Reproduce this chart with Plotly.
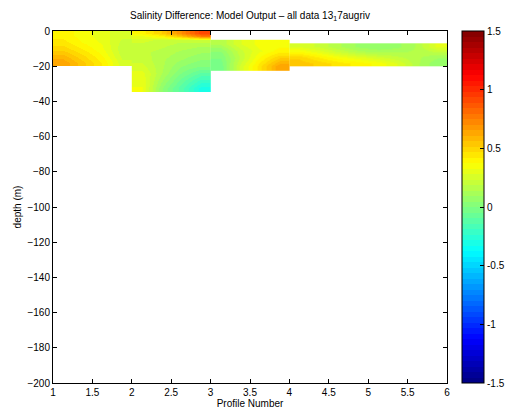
import plotly.graph_objects as go

# ---- Data (salinity difference): cell centres and values per block ----
blockA_x = [1.125, 1.375, 1.625, 1.875]
blockA_y = [-2, -6, -10, -14, -18]
blockA_z = [
    [0.40, 0.35, 0.30, 0.25],
    [0.44, 0.37, 0.32, 0.22],
    [0.50, 0.42, 0.34, 0.20],
    [0.58, 0.48, 0.38, 0.22],
    [0.65, 0.53, 0.42, 0.25],
]

blockB_x = [2.125, 2.375, 2.625, 2.875]
blockB_y = [-1, -3, -5, -8, -12, -16, -20, -24, -28, -32.25]
blockB_z = [
    [0.40, 0.52, 0.70, 0.92],
    [0.32, 0.40, 0.55, 0.75],
    [0.25, 0.22, 0.20, 0.22],
    [0.22, 0.20, 0.17, 0.15],
    [0.20, 0.17, 0.13, 0.10],
    [0.22, 0.15, 0.10, 0.05],
    [0.25, 0.15, 0.05, 0.00],
    [0.30, 0.14, 0.00, -0.10],
    [0.32, 0.10, -0.06, -0.20],
    [0.33, 0.05, -0.12, -0.30],
]

blockC_x = [3.125, 3.375, 3.625, 3.875]
blockC_y = [-7, -11, -15, -20]
blockC_z = [
    [0.15, 0.28, 0.35, 0.35],
    [0.05, 0.22, 0.32, 0.40],
    [0.00, 0.20, 0.38, 0.52],
    [-0.03, 0.25, 0.45, 0.65],
]

blockD_x = [4.125, 4.375, 4.625, 4.875, 5.125, 5.375, 5.625, 5.875]
blockD_y = [-8.5, -11.5, -14.75, -18.25]
blockD_z = [
    [0.27, 0.22, 0.15, 0.08, 0.05, 0.08, 0.15, 0.30],
    [0.37, 0.30, 0.22, 0.15, 0.12, 0.13, 0.15, 0.20],
    [0.50, 0.42, 0.35, 0.30, 0.25, 0.20, 0.15, 0.10],
    [0.55, 0.50, 0.45, 0.40, 0.36, 0.28, 0.15, 0.05],
]

x_ticks = [1, 1.5, 2, 2.5, 3, 3.5, 4, 4.5, 5, 5.5, 6]
y_ticks = [0, -20, -40, -60, -80, -100, -120, -140, -160, -180, -200]
cbar_ticks = [-1.5, -1, -0.5, 0, 0.5, 1, 1.5]
cbar_labels = ["-1.5", "-1", "-0.5", "0", "0.5", "1", "1.5"]


# ---- MATLAB jet(64) colormap as a stepped colorscale ----
def jet(t):
    def c(v):
        return max(0.0, min(1.0, v))
    r = c(1.5 - abs(4 * t - 3))
    g = c(1.5 - abs(4 * t - 2))
    b = c(1.5 - abs(4 * t - 1))
    return "rgb(%d,%d,%d)" % (round(r * 255), round(g * 255), round(b * 255))


N = 64
colorscale = []
for i in range(N):
    col = jet((i + 0.5) / N)
    colorscale.append([i / N, col])
    colorscale.append([(i + 1) / N, col])

fig = go.Figure()
for bx, by, bz in [(blockA_x, blockA_y, blockA_z), (blockB_x, blockB_y, blockB_z),
                   (blockC_x, blockC_y, blockC_z), (blockD_x, blockD_y, blockD_z)]:
    fig.add_trace(go.Heatmap(x=bx, y=by, z=bz, coloraxis="coloraxis",
                             zsmooth="best", hoverinfo="skip"))

font = dict(family="Liberation Sans, Arial, sans-serif", size=10, color="black")

fig.update_layout(
    width=505, height=411,
    margin=dict(l=53, r=58, t=31, b=28, pad=0, autoexpand=False),
    paper_bgcolor="white", plot_bgcolor="white",
    font=font,
    showlegend=False,
    title=dict(text="Salinity Difference: Model Output \u2013 all data 13<sub>1</sub>7augriv",
               x=0.495, xanchor="center", y=1 - 15 / 411, yanchor="middle",
               font=dict(size=10)),
    coloraxis=dict(
        cmin=-1.5, cmax=1.5, colorscale=colorscale,
        colorbar=dict(
            x=1.038, xanchor="left", xref="paper",
            y=0.5, yanchor="middle", len=1, lenmode="fraction",
            thickness=22, thicknessmode="pixels",
            outlinecolor="black", outlinewidth=1,
            tickmode="array", tickvals=cbar_ticks, ticktext=cbar_labels,
            ticks="inside", ticklen=4, tickcolor="black",
            tickfont=dict(size=10), xpad=0, ypad=0,
        ),
    ),
    xaxis=dict(
        range=[1, 6], tickmode="array", tickvals=x_ticks,
        ticktext=[("%g" % v) for v in x_ticks],
        ticks="inside", ticklen=4, tickcolor="black",
        showline=True, linecolor="black", linewidth=1, mirror="ticks",
        showgrid=False, zeroline=False, automargin=False,
        title=dict(text="Profile Number", standoff=2, font=dict(size=10)),
    ),
    yaxis=dict(
        range=[-200, 0], tickmode="array", tickvals=y_ticks,
        ticks="inside", ticklen=4, tickcolor="black",
        showline=True, linecolor="black", linewidth=1, mirror="ticks",
        showgrid=False, zeroline=False, automargin=False,
        title=dict(text="depth (m)", standoff=3, font=dict(size=10)),
    ),
)

fig.write_html("out.html", config={"displayModeBar": False},
               post_script="document.body.style.margin='0px';document.body.style.padding='0px';")
